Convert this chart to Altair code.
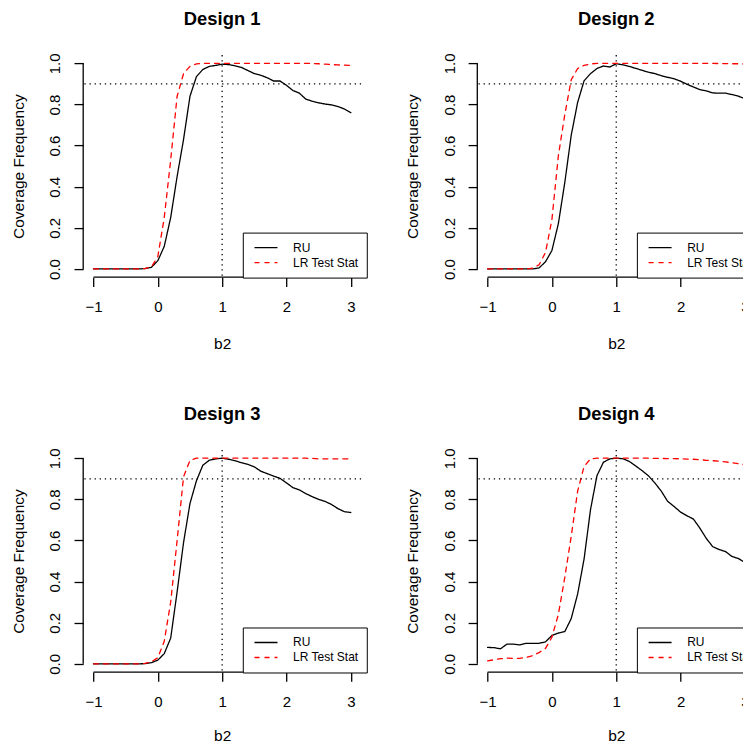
import altair as alt
import pandas as pd

# ---------------- data ----------------
b2 = [-1.0, -0.9, -0.8, -0.7, -0.6, -0.5, -0.4, -0.3, -0.2, -0.1,
      0.0, 0.1, 0.2, 0.3, 0.4, 0.5, 0.6, 0.7, 0.8, 0.9,
      1.0, 1.1, 1.2, 1.3, 1.4, 1.5, 1.6, 1.7, 1.8, 1.9,
      2.0, 2.1, 2.2, 2.3, 2.4, 2.5, 2.6, 2.7, 2.8, 2.9, 3.0]

ru_d1 = [0, 0, 0, 0, 0, 0, 0, 0, 0.002, 0.008,
         0.04, 0.11, 0.25, 0.45, 0.63, 0.84, 0.935, 0.97, 0.985, 0.99,
         0.996, 0.994, 0.988, 0.98, 0.965, 0.95, 0.942, 0.93, 0.914, 0.914,
         0.893, 0.868, 0.855, 0.826, 0.816, 0.808, 0.802, 0.798, 0.79, 0.778, 0.76]
lr_d1 = [0, 0, 0, 0, 0, 0, 0, 0, 0.002, 0.01,
         0.06, 0.25, 0.53, 0.84, 0.95, 0.985, 0.997, 1.0, 1.0, 1.0,
         1.0, 1.0, 1.0, 1.0, 1.0, 1.0, 1.0, 1.0, 1.0, 1.0,
         1.0, 1.0, 1.0, 1.0, 0.999, 0.998, 0.996, 0.994, 0.992, 0.991, 0.99]

ru_d2 = [0, 0, 0, 0, 0, 0, 0, 0, 0.005, 0.035,
         0.09, 0.22, 0.42, 0.65, 0.81, 0.915, 0.95, 0.975, 0.987, 0.982,
         0.998, 0.993, 0.985, 0.976, 0.966, 0.957, 0.95, 0.94, 0.932, 0.925,
         0.913, 0.898, 0.885, 0.872, 0.866, 0.856, 0.855, 0.855, 0.848, 0.84, 0.828]
lr_d2 = [0, 0, 0, 0, 0, 0, 0, 0.004, 0.02, 0.08,
         0.24, 0.55, 0.75, 0.92, 0.975, 0.99, 0.997, 1.0, 1.0, 1.0,
         1.0, 1.0, 1.0, 1.0, 1.0, 1.0, 1.0, 1.0, 1.0, 1.0,
         1.0, 1.0, 1.0, 1.0, 1.0, 1.0, 0.999, 0.999, 0.998, 0.998, 0.997]

ru_d3 = [0, 0, 0, 0, 0, 0, 0, 0, 0.001, 0.006,
         0.018, 0.05, 0.125, 0.35, 0.59, 0.78, 0.89, 0.966, 0.99, 0.997,
         1.0, 0.995, 0.988, 0.978, 0.97, 0.958, 0.937, 0.925, 0.913, 0.902,
         0.88, 0.857, 0.846, 0.828, 0.813, 0.80, 0.79, 0.775, 0.755, 0.74, 0.736]
lr_d3 = [0, 0, 0, 0, 0, 0, 0, 0, 0.002, 0.01,
         0.03, 0.11, 0.30, 0.60, 0.91, 0.99, 1.0, 1.0, 1.0, 1.0,
         1.0, 1.0, 1.0, 1.0, 1.0, 1.0, 1.0, 1.0, 1.0, 1.0,
         1.0, 1.0, 1.0, 1.0, 0.999, 0.997, 0.997, 0.997, 0.997, 0.997, 0.997]

ru_d4 = [0.08, 0.079, 0.073, 0.096, 0.096, 0.092, 0.1, 0.1, 0.1, 0.107,
         0.138, 0.15, 0.157, 0.22, 0.34, 0.51, 0.75, 0.915, 0.98, 0.997,
         1.0, 0.998, 0.985, 0.963, 0.94, 0.915, 0.88, 0.84, 0.79, 0.765,
         0.738, 0.72, 0.704, 0.66, 0.61, 0.57, 0.556, 0.546, 0.522, 0.512, 0.493]
lr_d4 = [0.015, 0.02, 0.025, 0.028, 0.027, 0.027, 0.032, 0.04, 0.055, 0.075,
         0.13, 0.24, 0.42, 0.62, 0.84, 0.96, 0.997, 1.0, 1.0, 1.0,
         1.0, 1.0, 1.0, 1.0, 1.0, 1.0, 0.999, 0.999, 0.998, 0.998,
         0.997, 0.996, 0.995, 0.993, 0.99, 0.988, 0.985, 0.982, 0.978, 0.973, 0.968]

designs = ["Design 1", "Design 2", "Design 3", "Design 4"]
ru_series = [ru_d1, ru_d2, ru_d3, ru_d4]
lr_series = [lr_d1, lr_d2, lr_d3, lr_d4]
series_names = ["RU", "LR Test Stat"]
series_colors = ["black", "red"]

x_ticks = [-1, 0, 1, 2, 3]
y_ticks = [0.0, 0.2, 0.4, 0.6, 0.8, 1.0]
x_limits = [-1.16, 3.16]
y_limits = [-0.04, 1.04]
ref_level = [0.9]
ref_b2 = [1.0]

# ---------------- styling ----------------
FONT = "Liberation Sans"
W, H = 277.9, 222.1
LW = 1.3

x_scale = alt.Scale(domain=x_limits, nice=False, zero=False)
y_scale = alt.Scale(domain=y_limits, nice=False, zero=False)


def make_x_axis(title_y):
    return alt.Axis(values=x_ticks, format="d", domain=False, grid=False,
                    ticks=True, tickSize=9.2, tickWidth=LW, tickColor="black",
                    labelFontSize=15, labelFont=FONT, labelColor="black",
                    labelBaseline="alphabetic", labelPadding=25.6,
                    labelFlush=False, labelOverlap=False,
                    title="b2", titleFontSize=15.5, titleFont=FONT,
                    titleFontWeight="normal", titleColor="black",
                    titleBaseline="alphabetic", titleY=title_y)


y_axis = alt.Axis(values=y_ticks, format=".1f", domain=False, grid=False,
                  ticks=True, tickSize=9.2, tickWidth=LW, tickColor="black",
                  labelFontSize=15, labelFont=FONT, labelColor="black",
                  labelAngle=270, labelAlign="center",
                  labelBaseline="alphabetic", labelPadding=14,
                  labelFlush=False, labelOverlap=False,
                  title="Coverage Frequency", titleFontSize=15.5, titleFont=FONT,
                  titleFontWeight="normal", titleColor="black",
                  titleAngle=270, titleAlign="center",
                  titleBaseline="alphabetic", titleX=-59.7, titleY=H / 2)

legend = alt.Legend(title=None, orient="none", legendX=159.6, legendY=177.5,
                    direction="vertical", padding=7.5,
                    strokeColor="black", fillColor="white",
                    symbolType="stroke", symbolSize=529, symbolStrokeWidth=LW,
                    symbolOffset=3.2,
                    labelFontSize=12, labelFont=FONT, labelColor="black",
                    labelOffset=14.6, rowPadding=0, clipHeight=15)

dotted = [1.3, 3.8]


def panel(title, ru, lr, xtitle_y):
    n = len(b2)
    df = pd.DataFrame({
        "b2": b2 + b2,
        "cov": ru + lr,
        "series": [series_names[0]] * n + [series_names[1]] * n,
    })
    lines = alt.Chart(df).mark_line(strokeWidth=LW, strokeCap="round").encode(
        x=alt.X("b2:Q", scale=x_scale, axis=make_x_axis(xtitle_y)),
        y=alt.Y("cov:Q", scale=y_scale, axis=y_axis),
        color=alt.Color("series:N",
                        scale=alt.Scale(domain=series_names, range=series_colors),
                        legend=legend),
        strokeDash=alt.StrokeDash("series:N",
                                  scale=alt.Scale(domain=series_names,
                                                  range=[[1, 0], [5, 5]]),
                                  legend=legend),
    )
    # axis lines as in R: spanning only the tick range
    xline = alt.Chart(pd.DataFrame({"b2": [x_ticks[0]], "b2_end": [x_ticks[-1]],
                                    "cov": [y_limits[0]]})).mark_rule(
        color="black", strokeWidth=LW
    ).encode(x="b2:Q", x2="b2_end:Q", y="cov:Q")
    yline = alt.Chart(pd.DataFrame({"b2": [x_limits[0]], "cov": [y_ticks[0]],
                                    "cov_end": [y_ticks[-1]]})).mark_rule(
        color="black", strokeWidth=LW
    ).encode(x="b2:Q", y="cov:Q", y2="cov_end:Q")
    # reference lines
    hline = alt.Chart(pd.DataFrame({"cov": ref_level})).mark_rule(
        color="black", strokeWidth=LW, strokeDash=dotted
    ).encode(y="cov:Q")
    vline = alt.Chart(pd.DataFrame({"b2": ref_b2})).mark_rule(
        color="black", strokeWidth=LW, strokeDash=dotted
    ).encode(x="b2:Q")
    return alt.layer(lines, xline, yline, hline, vline).properties(
        width=W, height=H,
        title=alt.TitleParams(title, fontSize=18.4, fontWeight="bold", font=FONT,
                              color="black", anchor="middle", frame="group",
                              baseline="alphabetic", offset=9.3),
    )


xtitle_rows = [71.4, 71.4, 68.1, 68.1]
panels = [panel(t, r, l, ty)
          for t, r, l, ty in zip(designs, ru_series, lr_series, xtitle_rows)]

chart = alt.concat(
    *panels, columns=2, spacing={"row": 171.9, "column": 116.1}, bounds="flush"
).resolve_scale(
    color="independent", strokeDash="independent"
).resolve_legend(
    color="independent", strokeDash="independent"
).properties(
    padding={"left": 2.2, "top": 1.1, "right": -19.5, "bottom": -3.8}
).configure(
    font=FONT
).configure_view(
    stroke="transparent"
)

chart.save("out.html", embed_options={"renderer": "svg", "actions": False})
